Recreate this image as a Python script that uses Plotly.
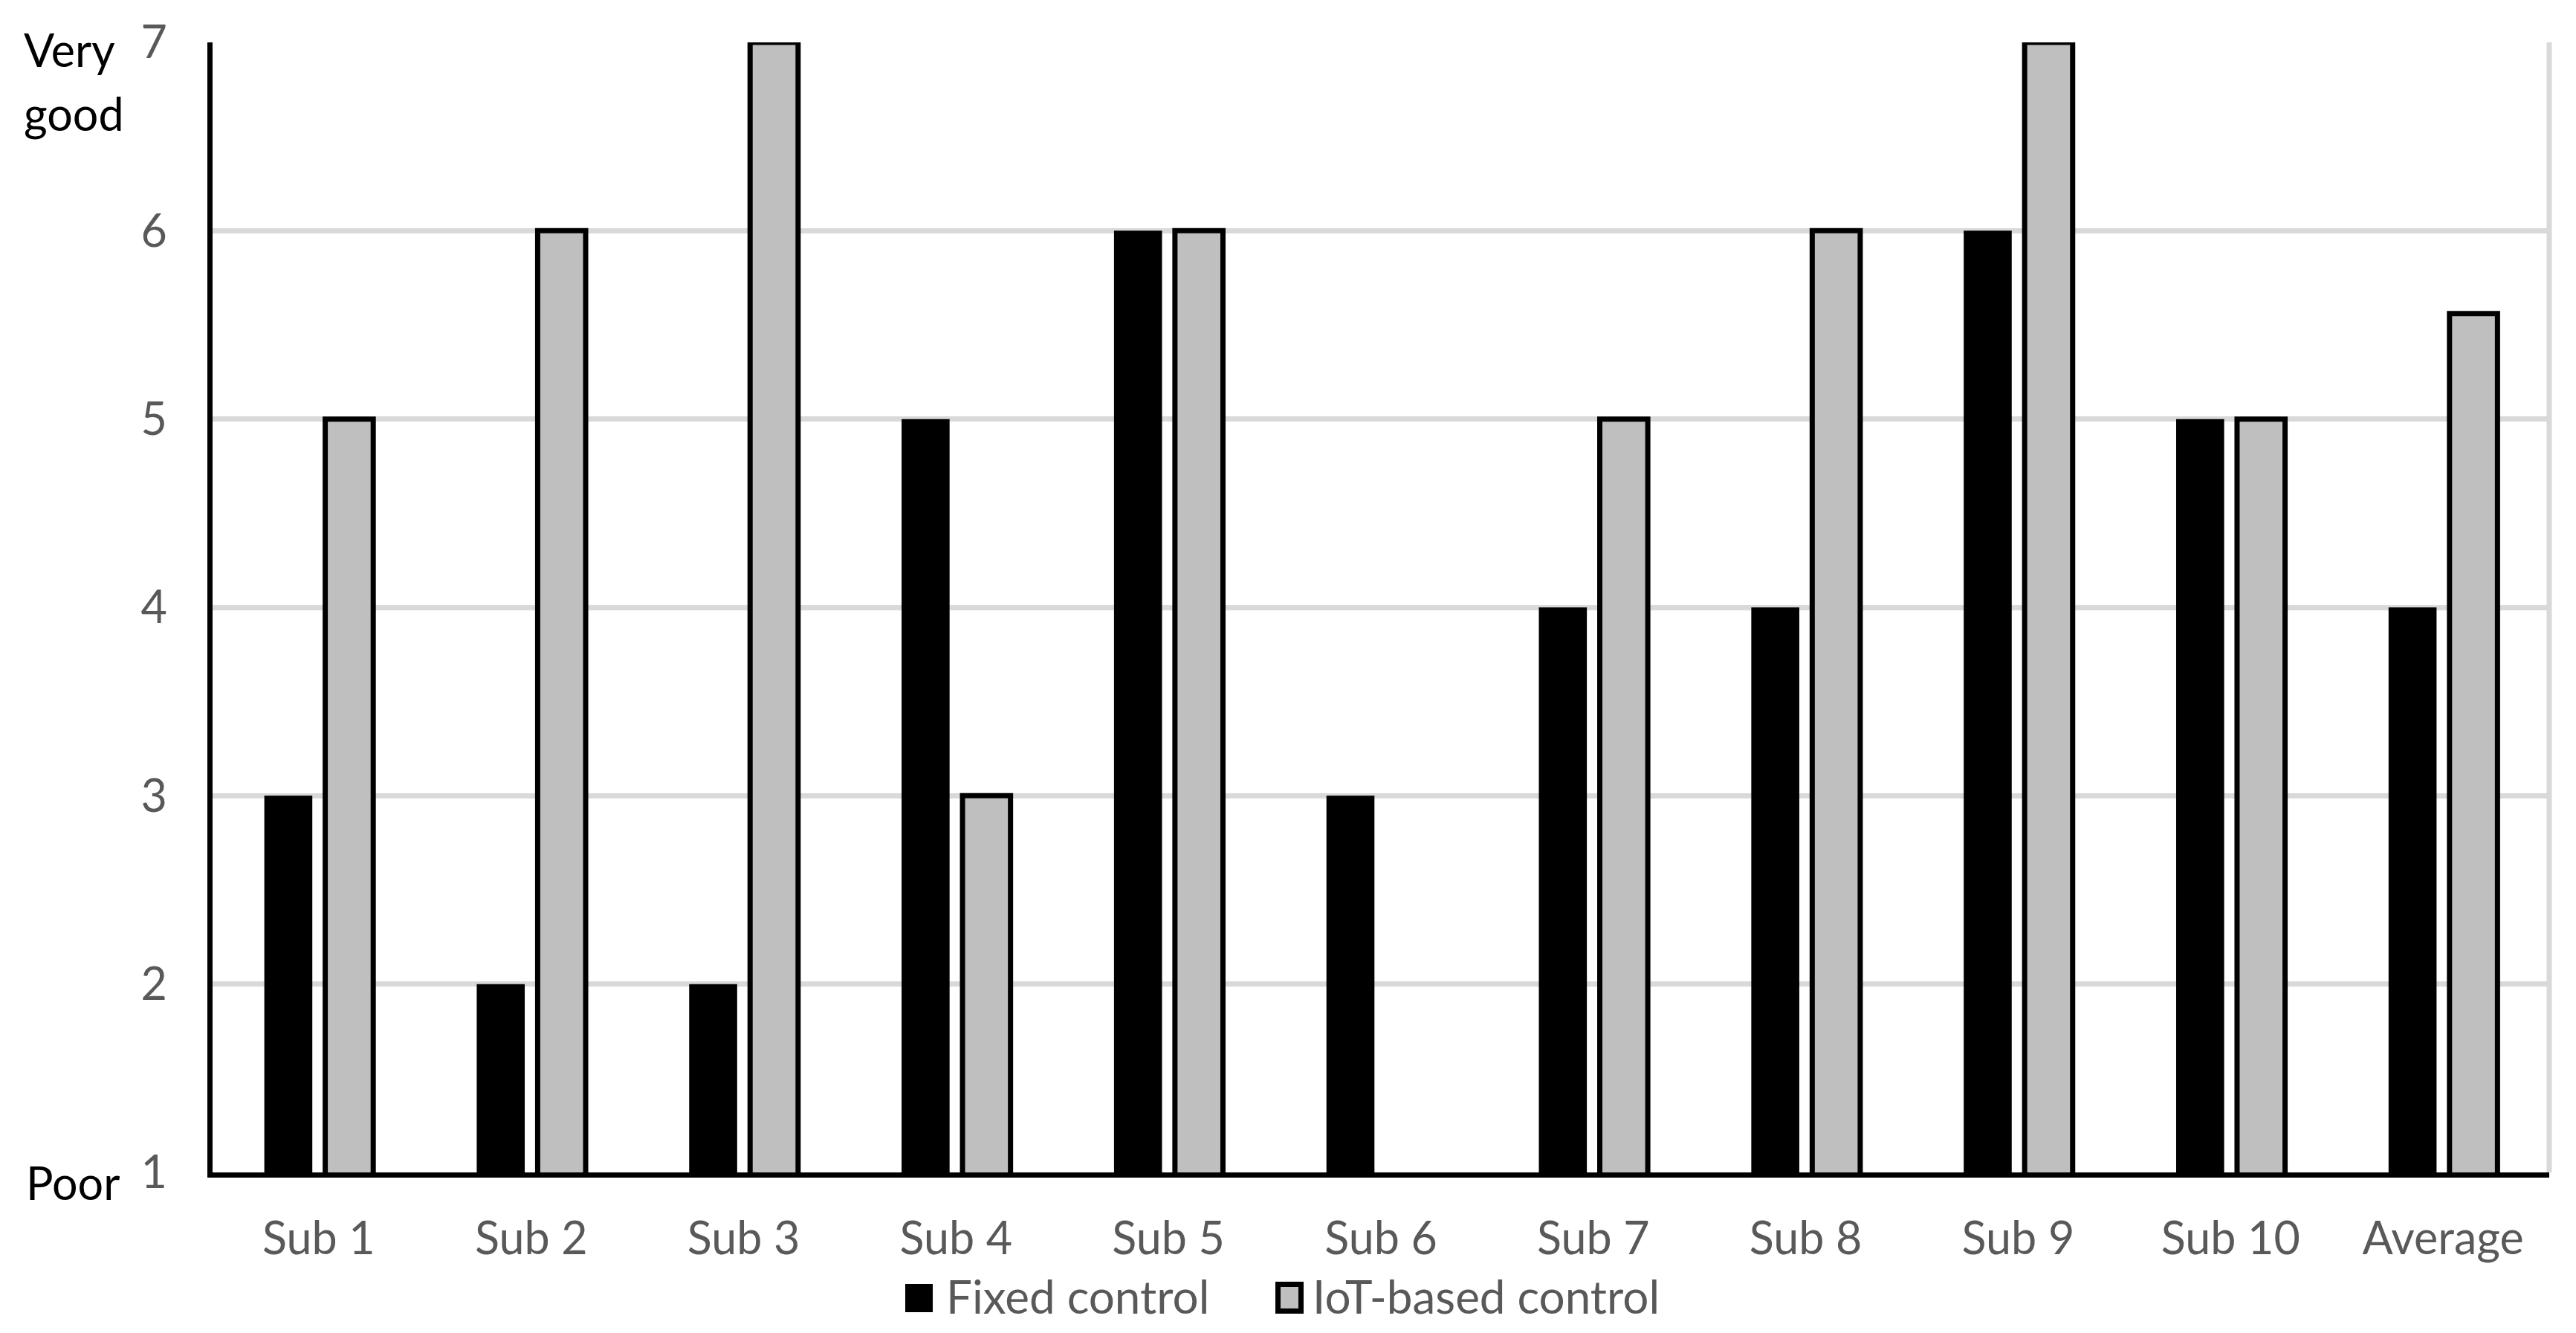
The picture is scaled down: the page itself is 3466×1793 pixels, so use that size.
import plotly.graph_objects as go

categories = ["Sub 1", "Sub 2", "Sub 3", "Sub 4", "Sub 5", "Sub 6", "Sub 7", "Sub 8", "Sub 9", "Sub 10", "Average"]
fixed_control = [3, 2, 2, 5, 6, 3, 4, 4, 6, 5, 4.0]
iot_control = [5, 6, 7, 3, 6, None, 5, 6, 7, 5, 5.56]
series_names = ["Fixed control", "IoT-based control"]
y_ticks = [1, 2, 3, 4, 5, 6, 7]
top_label_1 = "Very"
top_label_2 = "good"
bottom_label = "Poor"

# the page body has an 8px default margin, so the figure is offset by 8px
OFF = 8
W, H = 3466 - 2 * OFF, 1793 - 2 * OFF
# plot area in screen pixels: x 286..3430, y 57..1577
ML = 286 - OFF
MT = 57 - OFF
MR = W - (3430 - OFF)
MB = H - (1577 - OFF)
PW = W - ML - MR
PH = H - MT - MB
FONT = "Lato, 'Open Sans', sans-serif"
GRAY_TXT = "#595959"
FS = 61
FS_LEG = 62


def px_x(px):
    return (px - OFF - ML) / PW


def px_y(py):
    return (H - MB - (py - OFF)) / PH


fig = go.Figure()
fig.add_trace(go.Bar(
    x=categories, y=fixed_control, name=series_names[0],
    marker=dict(color="#000000", line=dict(width=0)),
    showlegend=False,
))
fig.add_trace(go.Bar(
    x=categories, y=iot_control, name=series_names[1],
    marker=dict(color="#bfbfbf", line=dict(color="#000000", width=7)),
    showlegend=False,
))

shapes = [
    # right light-gray border of the plot area
    dict(type="line", xref="x domain", yref="y domain", x0=1, x1=1, y0=0, y1=1,
         line=dict(color="#d9d9d9", width=7), layer="below"),
    # legend swatches
    dict(type="rect", xref="paper", yref="paper",
         x0=px_x(1218), x1=px_x(1255), y0=px_y(1765), y1=px_y(1727),
         fillcolor="#000000", line=dict(width=0)),
    dict(type="rect", xref="paper", yref="paper",
         x0=px_x(1719.5), x1=px_x(1750.5), y0=px_y(1763.5), y1=px_y(1727.5),
         fillcolor="#bfbfbf", line=dict(color="#000000", width=7)),
]


def label(text, x, y, color, size):
    return dict(text=text, xref="paper", yref="paper", x=px_x(x), y=px_y(y),
                xanchor="left", yanchor="middle", showarrow=False,
                font=dict(family=FONT, size=size, color=color))


annotations = [
    label(top_label_1, 30, 67, "#000000", FS),
    label(top_label_2, 30, 153, "#000000", FS),
    label(bottom_label, 33, 1590, "#000000", FS),
    label(series_names[0], 1271, 1743, GRAY_TXT, FS_LEG),
    label(series_names[1], 1764, 1743, GRAY_TXT, FS_LEG),
]

fig.update_layout(
    width=W, height=H,
    margin=dict(l=ML, r=MR, t=MT, b=MB, pad=0, autoexpand=False),
    paper_bgcolor="white", plot_bgcolor="white",
    barmode="group", bargap=0.4264, bargroupgap=0.212,
    font=dict(family=FONT, size=FS, color=GRAY_TXT),
    shapes=shapes, annotations=annotations,
    showlegend=False,
)
fig.update_xaxes(
    type="category", showgrid=False, showline=True, linecolor="#000000", linewidth=7,
    ticks="", tickfont=dict(family=FONT, size=FS, color=GRAY_TXT),
    ticklabelstandoff=30, automargin=False,
)
fig.update_yaxes(
    range=[1, 7], tickvals=y_ticks, showgrid=True, gridcolor="#d9d9d9", gridwidth=7,
    showline=True, linecolor="#000000", linewidth=7, zeroline=False,
    ticks="", tickfont=dict(family=FONT, size=FS, color=GRAY_TXT),
    ticklabelstandoff=42, automargin=False,
)

fig.write_html("out.html")
